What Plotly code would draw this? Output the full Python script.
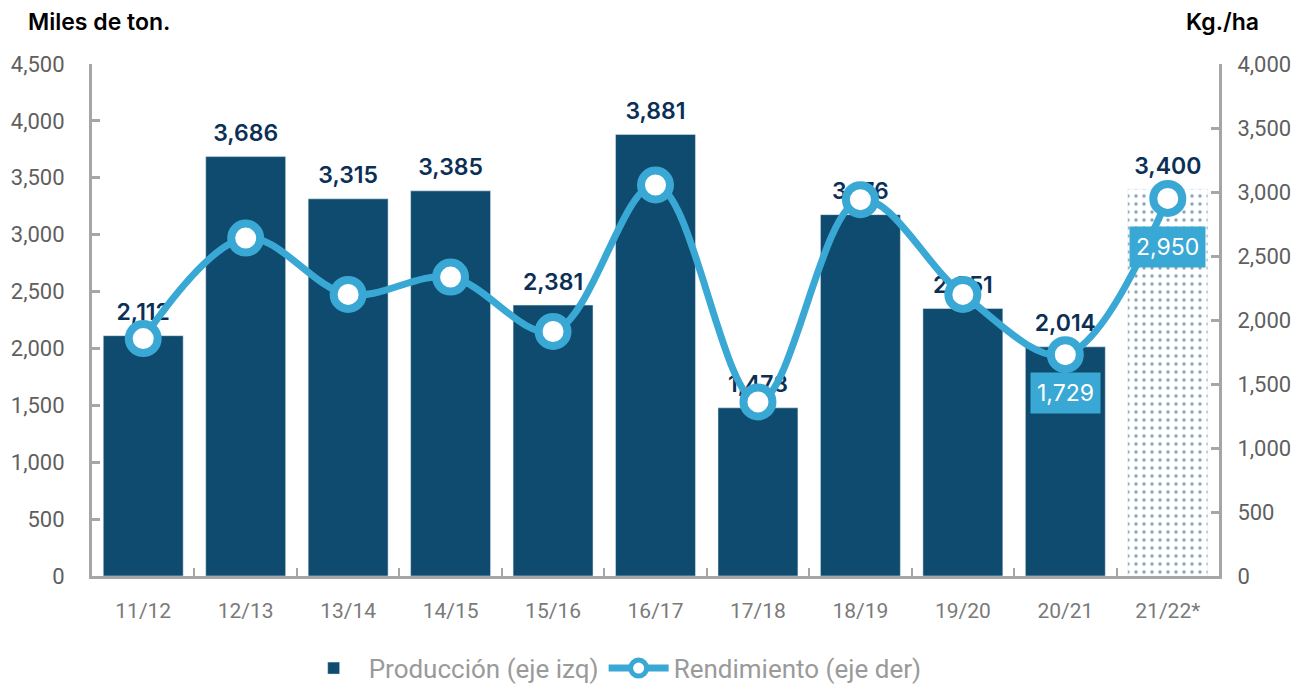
import plotly.graph_objects as go

# Campaign data
campaigns = ['11/12', '12/13', '13/14', '14/15', '15/16', '16/17',
             '17/18', '18/19', '19/20', '20/21', '21/22*']
produccion = [2112, 3686, 3315, 3385, 2381, 3881, 1478, 3176, 2351, 2014, 3400]
rendimiento = [1855, 2640, 2200, 2335, 1910, 3055, 1360, 2940, 2200, 1729, 2950]
bar_patterns = ['', '', '', '', '', '', '', '', '', '', '.']

# labelled yield points: (index, label y on right axis)
yield_labels = [(9, 1430), (10, 2570)]

colors = {
    'bar': '#0e4b6e',
    'bar_text': '#0b2f55',
    'line': '#3aa8d4',
    'axis': '#a6a6a6',
    'tick': '#5f5f5f',
}

fig = go.Figure()

fig.add_trace(
    go.Bar(
        x=campaigns,
        y=produccion,
        name='Producción (eje izq)',
        marker=dict(
            color=colors['bar'],
            pattern=dict(shape=bar_patterns, fgcolor=colors['bar'],
                         bgcolor='white', size=8, solidity=0.14),
        ),
    )
)

# value labels above the bars (invisible marker pushes the text up)
fig.add_trace(
    go.Scatter(
        x=campaigns,
        y=produccion,
        mode='markers+text',
        marker=dict(size=14, opacity=0),
        text=[f'{v:,}' for v in produccion],
        textposition='top center',
        textfont=dict(family='Inter', size=23, color=colors['bar_text'], weight=600),
        showlegend=False,
        hoverinfo='skip',
        cliponaxis=False,
    )
)

fig.add_trace(
    go.Scatter(
        x=campaigns,
        y=rendimiento,
        name='Rendimiento (eje der)',
        mode='lines+markers',
        yaxis='y2',
        line=dict(color=colors['line'], width=7, shape='spline', smoothing=1.0),
        marker=dict(size=29, color='white', line=dict(color=colors['line'], width=8)),
        cliponaxis=False,
    )
)

for i, ypos in yield_labels:
    fig.add_annotation(
        x=campaigns[i], y=ypos, yref='y2',
        text=f'{rendimiento[i]:,}',
        showarrow=False,
        bgcolor=colors['line'],
        font=dict(family='Inter', size=23, color='white'),
        borderpad=6,
    )

fig.add_annotation(x=0, y=1, xref='paper', yref='paper', xshift=-66, yshift=42,
                   xanchor='left', yanchor='middle', showarrow=False,
                   text='Miles de ton.',
                   font=dict(family='Inter', size=23, color='black', weight=600))
fig.add_annotation(x=1, y=1, xref='paper', yref='paper', xshift=42, yshift=42,
                   xanchor='right', yanchor='middle', showarrow=False,
                   text='Kg./ha',
                   font=dict(family='Inter', size=23, color='black', weight=600))

# the page body adds an 8px margin, so the figure is sized to fit inside it
fig.update_layout(
    width=1300,
    height=679,
    plot_bgcolor='white',
    paper_bgcolor='white',
    bargap=0.22,
    margin=dict(l=84, r=89, t=56, b=111, autoexpand=False),
    font=dict(family='Roboto', size=21, color=colors['tick']),
    showlegend=True,
    legend=dict(orientation='h', x=0.462, xanchor='center', y=-0.226, yanchor='bottom',
                font=dict(family='Roboto', size=26, color='#9a9a9a'),
                itemwidth=60, traceorder='normal'),
    xaxis=dict(
        range=[-0.5, len(campaigns) - 0.5],
        showline=True, linecolor=colors['axis'], linewidth=3,
        ticks='inside', tickson='boundaries', ticklen=8, tickcolor=colors['axis'],
        tickwidth=2, tickfont=dict(family='Roboto', size=21, color='#7a7a7a'),
        ticklabelstandoff=14, showgrid=False,
    ),
    yaxis=dict(
        range=[0, 4500], dtick=500, tickformat=',',
        showline=True, linecolor=colors['axis'], linewidth=3,
        ticks='inside', ticklen=8, tickcolor=colors['axis'], tickwidth=3,
        ticklabelstandoff=20, showgrid=False, zeroline=False,
        tickfont=dict(family='Roboto', size=22, color=colors['tick']),
    ),
    yaxis2=dict(
        range=[0, 4000], dtick=500, tickformat=',',
        overlaying='y', side='right',
        showline=True, linecolor=colors['axis'], linewidth=3,
        ticks='inside', ticklen=8, tickcolor=colors['axis'], tickwidth=3,
        ticklabelstandoff=11, showgrid=False, zeroline=False,
        tickfont=dict(family='Roboto', size=22, color=colors['tick']),
    ),
)

fig.write_html('out.html')
